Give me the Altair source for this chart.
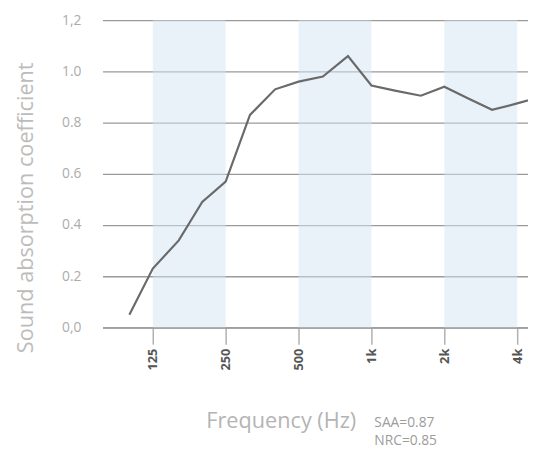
import altair as alt
import pandas as pd

# 1/3-octave band centre frequencies (Hz) and absorption coefficients
freqs = [100, 125, 160, 200, 250, 315, 400, 500, 630, 800, 1000, 1250, 1600, 2000, 2500, 3150, 4000, 5000]
alpha = [0.05, 0.23, 0.34, 0.49, 0.57, 0.83, 0.93, 0.96, 0.98, 1.06, 0.945, 0.925, 0.905, 0.94, 0.895, 0.85, 0.875, 0.90]

# shaded octave bands
band_start = [125, 500, 2000]
band_end = [250, 1000, 4000]

tick_freqs = [125, 250, 500, 1000, 2000, 4000]
y_ticks = [0, 0.2, 0.4, 0.6, 0.8, 1.0, 1.2]

notes = ["SAA=0.87\nNRC=0.85"]

curve = pd.DataFrame({"f": freqs, "a": alpha})
bands = pd.DataFrame({"f0": band_start, "f1": band_end, "lo": [0] * 3, "hi": [1.2] * 3})
ann = pd.DataFrame({"t": notes})

font = "Open Sans"

xscale = alt.Scale(type="log", base=2, domain=[77.5, 4433], nice=False, zero=False)
yscale = alt.Scale(domain=[0, 1.2], nice=False)

xaxis = alt.Axis(
    values=tick_freqs,
    labelExpr="datum.value >= 1000 ? (datum.value/1000) + 'k' : datum.value",
    grid=False,
    domainColor="#9a9a9a",
    domainWidth=1.5,
    tickColor="#b0b0b0",
    tickSize=17,
    tickWidth=1.5,
    labelAngle=270,
    labelFontWeight="bold",
    labelColor="#555555",
    labelFontSize=13,
    labelPadding=4,
    labelFont=font,
    title="Frequency (Hz)",
    titleFont=font,
    titleFontSize=22,
    titleFontWeight="normal",
    titleColor="#b4b4b4",
    titleX=181,
    titleY=95,
    titleBaseline="middle",
)

yaxis = alt.Axis(
    values=y_ticks,
    labelExpr="datum.value > 1.1 ? '1,2' : (datum.value < 0.1 ? '0,0' : format(datum.value, '.1f'))",
    grid=True,
    gridColor="#9a9a9a",
    gridWidth=1.3,
    domain=False,
    ticks=False,
    tickSize=0,
    labelPadding=22,
    labelColor="#ababab",
    labelFontSize=14,
    labelFont=font,
    title="Sound absorption coefficient",
    titleFont=font,
    titleFontSize=22,
    titleFontWeight="normal",
    titleColor="#bcbcbc",
    titleAngle=270,
    titleX=-78,
    titleY=190,
    titleBaseline="middle",
)

band_layer = alt.Chart(bands).mark_rect(color="#d6e5f3", opacity=0.5).encode(
    x=alt.X("f0:Q", scale=xscale, axis=xaxis),
    x2="f1:Q",
    y=alt.Y("lo:Q", scale=yscale, axis=yaxis),
    y2="hi:Q",
)

line_layer = alt.Chart(curve).mark_line(color="#6a6a6a", strokeWidth=2.2, clip=True).encode(
    x=alt.X("f:Q", scale=xscale),
    y=alt.Y("a:Q", scale=yscale),
)

text_layer = alt.Chart(ann).mark_text(
    align="left", baseline="top", lineBreak="\n", lineHeight=18,
    font=font, fontSize=14, color="#9c9c9c",
).encode(
    text="t:N",
    x=alt.value(276),
    y=alt.value(402),
)

chart = alt.layer(band_layer, line_layer, text_layer).properties(
    width=432,
    height=312,
    padding={"left": 96, "top": 9, "right": 0, "bottom": 120},
    autosize="none",
    background="white",
).configure_view(stroke=None)

chart.save("out.html", embed_options={"renderer": "svg", "actions": False})
